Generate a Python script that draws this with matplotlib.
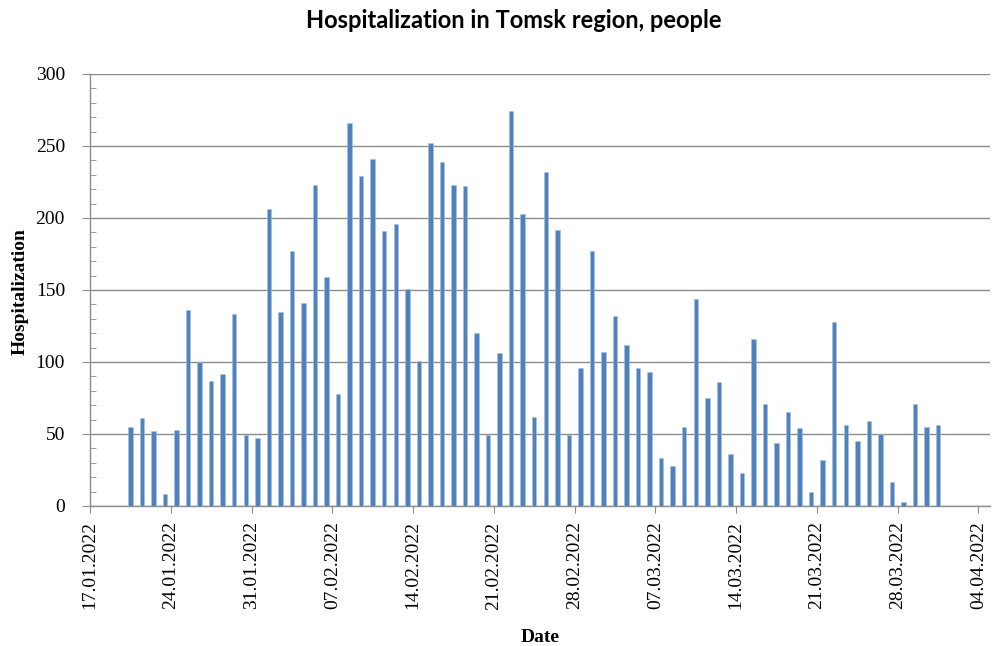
import matplotlib
matplotlib.use("Agg")
import matplotlib.pyplot as plt
import matplotlib.dates as mdates
from matplotlib.ticker import MultipleLocator
import datetime as dt

start_date = "2022-01-20"
values = [55, 61, 52, 8, 53, 136, 100, 87, 92, 133,
          49, 47, 206, 135, 177, 141, 223, 159, 78, 266,
          229, 241, 191, 196, 151, 101, 252, 239, 223, 222,
          120, 49, 106, 274, 203, 62, 232, 192, 49, 96,
          177, 107, 132, 112, 96, 93, 33, 28, 55, 144,
          75, 86, 36, 23, 116, 71, 44, 65, 54, 10,
          32, 128, 56, 45, 59, 50, 17, 3, 71, 55, 56]
tick_dates = ["17.01.2022", "24.01.2022", "31.01.2022", "07.02.2022",
              "14.02.2022", "21.02.2022", "28.02.2022", "07.03.2022",
              "14.03.2022", "21.03.2022", "28.03.2022", "04.04.2022"]
title = "Hospitalization in Tomsk region, people"
xlabel = "Date"
ylabel = "Hospitalization"

d0 = dt.datetime.strptime(start_date, "%Y-%m-%d")
dates = [d0 + dt.timedelta(days=i) for i in range(len(values))]
xs = [mdates.date2num(d) + 0.5 for d in dates]
ticks = [mdates.date2num(dt.datetime.strptime(t, "%d.%m.%Y")) for t in tick_dates]

fig = plt.figure(figsize=(9.95, 6.46), dpi=100)
ax = fig.add_axes([90/995, (646-506)/646, 900/995, (506-74)/646])

grid_c = "#8c8c8c"
ax.bar(xs, values, width=0.38, color="#4F81BD", edgecolor="#a9c1e0", linewidth=0.4, zorder=3)

ax.set_ylim(0, 300)
ax.set_xlim(ticks[0], ticks[0] + 78)
ax.yaxis.set_major_locator(MultipleLocator(50))
ax.yaxis.set_minor_locator(MultipleLocator(10))
ax.set_xticks(ticks)
ax.set_xticklabels(tick_dates, rotation=90)
ax.grid(axis="y", which="major", color=grid_c, linewidth=1.0, zorder=0)

for s in ["top", "right"]:
    ax.spines[s].set_visible(False)
for s in ["left", "bottom"]:
    ax.spines[s].set_color(grid_c)
    ax.spines[s].set_linewidth(1.0)

serif = ["Liberation Serif", "DejaVu Serif"]
ax.tick_params(axis="y", which="major", direction="out", length=6, color=grid_c, pad=12)
ax.tick_params(axis="y", which="minor", direction="in", length=4, color=grid_c)
ax.tick_params(axis="x", which="major", direction="out", length=5, color=grid_c, pad=6)
for lab in ax.get_xticklabels() + ax.get_yticklabels():
    lab.set_fontfamily(serif)
    lab.set_fontsize(14)

ax.set_xlabel(xlabel, fontfamily=serif, fontsize=14, fontweight="bold")
ax.xaxis.set_label_coords(0.5, -(637 - 506) / 432)
ax.xaxis.label.set_va("center")
ax.set_ylabel(ylabel, fontfamily=serif, fontsize=14, fontweight="bold")
ax.yaxis.set_label_coords((20 - 90) / 900, (506 - 292) / 432)
ax.yaxis.label.set_va("center")

fig.text(0.5 * (305 + 722) / 995, 1 - 21/646, title, ha="center", va="center",
         fontfamily=["Lato", "DejaVu Sans"], fontweight="bold", fontsize=17)

fig.savefig("out.png", dpi=100)
